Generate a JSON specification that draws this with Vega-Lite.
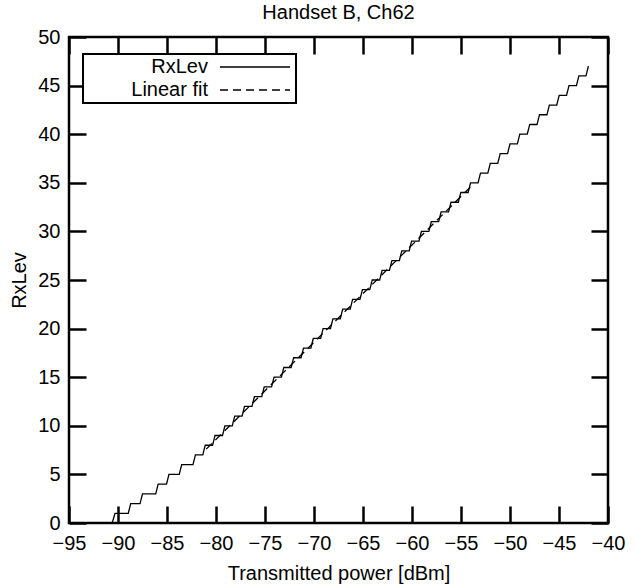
{
  "$schema": "https://vega.github.io/schema/vega-lite/v6.json",
  "autosize": {"type": "none"},
  "padding": {"left": 69, "top": 37, "right": 28, "bottom": 65},
  "width": 539,
  "height": 486,
  "title": {"text": "Handset B, Ch62", "fontSize": 20, "font": "Liberation Sans", "fontWeight": "normal", "color": "black", "offset": 4},
  "data": {"values": [
    {"series": "RxLev", "x": -90.6, "y": 0},
    {"series": "RxLev", "x": -90.3, "y": 1},
    {"series": "RxLev", "x": -88.95, "y": 1},
    {"series": "RxLev", "x": -88.7, "y": 2},
    {"series": "RxLev", "x": -87.75, "y": 2},
    {"series": "RxLev", "x": -87.5, "y": 3},
    {"series": "RxLev", "x": -86.15, "y": 3},
    {"series": "RxLev", "x": -85.9, "y": 4},
    {"series": "RxLev", "x": -85.05, "y": 4},
    {"series": "RxLev", "x": -84.8, "y": 5},
    {"series": "RxLev", "x": -83.75, "y": 5},
    {"series": "RxLev", "x": -83.5, "y": 6},
    {"series": "RxLev", "x": -82.35, "y": 6},
    {"series": "RxLev", "x": -82.1, "y": 7},
    {"series": "RxLev", "x": -81.35, "y": 7},
    {"series": "RxLev", "x": -81.1, "y": 8},
    {"series": "RxLev", "x": -80.35, "y": 8},
    {"series": "RxLev", "x": -80.1, "y": 9},
    {"series": "RxLev", "x": -79.34, "y": 9},
    {"series": "RxLev", "x": -79.09, "y": 10},
    {"series": "RxLev", "x": -78.34, "y": 10},
    {"series": "RxLev", "x": -78.09, "y": 11},
    {"series": "RxLev", "x": -77.34, "y": 11},
    {"series": "RxLev", "x": -77.09, "y": 12},
    {"series": "RxLev", "x": -76.33, "y": 12},
    {"series": "RxLev", "x": -76.08, "y": 13},
    {"series": "RxLev", "x": -75.33, "y": 13},
    {"series": "RxLev", "x": -75.08, "y": 14},
    {"series": "RxLev", "x": -74.33, "y": 14},
    {"series": "RxLev", "x": -74.08, "y": 15},
    {"series": "RxLev", "x": -73.33, "y": 15},
    {"series": "RxLev", "x": -73.08, "y": 16},
    {"series": "RxLev", "x": -72.33, "y": 16},
    {"series": "RxLev", "x": -72.08, "y": 17},
    {"series": "RxLev", "x": -71.32, "y": 17},
    {"series": "RxLev", "x": -71.07, "y": 18},
    {"series": "RxLev", "x": -70.32, "y": 18},
    {"series": "RxLev", "x": -70.07, "y": 19},
    {"series": "RxLev", "x": -69.32, "y": 19},
    {"series": "RxLev", "x": -69.07, "y": 20},
    {"series": "RxLev", "x": -68.32, "y": 20},
    {"series": "RxLev", "x": -68.07, "y": 21},
    {"series": "RxLev", "x": -67.32, "y": 21},
    {"series": "RxLev", "x": -67.07, "y": 22},
    {"series": "RxLev", "x": -66.31, "y": 22},
    {"series": "RxLev", "x": -66.06, "y": 23},
    {"series": "RxLev", "x": -65.31, "y": 23},
    {"series": "RxLev", "x": -65.06, "y": 24},
    {"series": "RxLev", "x": -64.31, "y": 24},
    {"series": "RxLev", "x": -64.06, "y": 25},
    {"series": "RxLev", "x": -63.3, "y": 25},
    {"series": "RxLev", "x": -63.05, "y": 26},
    {"series": "RxLev", "x": -62.3, "y": 26},
    {"series": "RxLev", "x": -62.05, "y": 27},
    {"series": "RxLev", "x": -61.29, "y": 27},
    {"series": "RxLev", "x": -61.04, "y": 28},
    {"series": "RxLev", "x": -60.29, "y": 28},
    {"series": "RxLev", "x": -60.04, "y": 29},
    {"series": "RxLev", "x": -59.29, "y": 29},
    {"series": "RxLev", "x": -59.04, "y": 30},
    {"series": "RxLev", "x": -58.28, "y": 30},
    {"series": "RxLev", "x": -58.03, "y": 31},
    {"series": "RxLev", "x": -57.28, "y": 31},
    {"series": "RxLev", "x": -57.03, "y": 32},
    {"series": "RxLev", "x": -56.27, "y": 32},
    {"series": "RxLev", "x": -56.02, "y": 33},
    {"series": "RxLev", "x": -55.27, "y": 33},
    {"series": "RxLev", "x": -55.02, "y": 34},
    {"series": "RxLev", "x": -54.27, "y": 34},
    {"series": "RxLev", "x": -54.02, "y": 35},
    {"series": "RxLev", "x": -53.26, "y": 35},
    {"series": "RxLev", "x": -53.01, "y": 36},
    {"series": "RxLev", "x": -52.26, "y": 36},
    {"series": "RxLev", "x": -52.01, "y": 37},
    {"series": "RxLev", "x": -51.25, "y": 37},
    {"series": "RxLev", "x": -51.0, "y": 38},
    {"series": "RxLev", "x": -50.25, "y": 38},
    {"series": "RxLev", "x": -50.0, "y": 39},
    {"series": "RxLev", "x": -49.25, "y": 39},
    {"series": "RxLev", "x": -49.0, "y": 40},
    {"series": "RxLev", "x": -48.24, "y": 40},
    {"series": "RxLev", "x": -47.99, "y": 41},
    {"series": "RxLev", "x": -47.24, "y": 41},
    {"series": "RxLev", "x": -46.99, "y": 42},
    {"series": "RxLev", "x": -46.23, "y": 42},
    {"series": "RxLev", "x": -45.98, "y": 43},
    {"series": "RxLev", "x": -45.23, "y": 43},
    {"series": "RxLev", "x": -44.98, "y": 44},
    {"series": "RxLev", "x": -44.23, "y": 44},
    {"series": "RxLev", "x": -43.98, "y": 45},
    {"series": "RxLev", "x": -43.22, "y": 45},
    {"series": "RxLev", "x": -42.97, "y": 46},
    {"series": "RxLev", "x": -42.25, "y": 46},
    {"series": "RxLev", "x": -42.0, "y": 47},
    {"series": "Linear fit", "x": -81.0, "y": 7.6},
    {"series": "Linear fit", "x": -54.0, "y": 34.6}
  ]},
  "layer": [
    {
      "mark": {"type": "line", "strokeWidth": 1.3, "interpolate": "linear"},
      "encoding": {
        "x": {"field": "x", "type": "quantitative", "scale": {"domain": [-95, -40], "nice": false, "zero": false},
          "axis": {"orient": "bottom", "values": [-95, -90, -85, -80, -75, -70, -65, -60, -55, -50, -45, -40], "title": "Transmitted power [dBm]", "labelPadding": 27, "titlePadding": 10}},
        "y": {"field": "y", "type": "quantitative", "scale": {"domain": [0, 50], "nice": false, "zero": false},
          "axis": {"orient": "left", "values": [0, 5, 10, 15, 20, 25, 30, 35, 40, 45, 50], "title": "RxLev", "labelPadding": 26, "titlePadding": 8}},
        "color": {"field": "series", "type": "nominal", "scale": {"domain": ["RxLev", "Linear fit"], "range": ["black", "black"]},
          "legend": {"orient": "none", "legendX": 14, "legendY": 17, "title": null}},
        "strokeDash": {"field": "series", "type": "nominal", "scale": {"domain": ["RxLev", "Linear fit"], "range": [[1, 0], [8, 5]]},
          "legend": {"orient": "none", "legendX": 14, "legendY": 17, "title": null}}
      }
    },
    {
      "mark": {"type": "line", "strokeOpacity": 0},
      "encoding": {
        "x": {"field": "x", "type": "quantitative", "scale": {"domain": [-95, -40], "nice": false, "zero": false},
          "axis": {"orient": "top", "values": [-95, -90, -85, -80, -75, -70, -65, -60, -55, -50, -45, -40], "labels": false, "title": null}},
        "y": {"field": "y", "type": "quantitative", "scale": {"domain": [0, 50], "nice": false, "zero": false},
          "axis": {"orient": "right", "values": [0, 5, 10, 15, 20, 25, 30, 35, 40, 45, 50], "labels": false, "title": null}},
        "detail": {"field": "series", "type": "nominal"}
      }
    }
  ],
  "resolve": {"axis": {"x": "independent", "y": "independent"}},
  "config": {
    "view": {"stroke": "black", "strokeWidth": 2.5},
    "font": "Liberation Sans",
    "axis": {
      "domain": false, "grid": false, "ticks": true, "tickSize": -17, "tickWidth": 2.5, "tickColor": "black",
      "labelFont": "Liberation Sans", "labelFontSize": 20, "labelColor": "black", "labelFlush": false, "labelOverlap": false,
      "titleFont": "Liberation Sans", "titleFontSize": 20, "titleFontWeight": "normal", "titleColor": "black"
    },
    "legend": {
      "symbolType": "M-7,0H7",
      "symbolSize": 100,
      "symbolStrokeWidth": 1.3,
      "symbolStrokeColor": "black",
      "symbolOffset": 159,
      "labelAlign": "right",
      "labelOffset": -57,
      "labelFont": "Liberation Sans",
      "labelFontSize": 20,
      "labelColor": "black",
      "strokeColor": "black",
      "strokeWidth": 2,
      "fillColor": "white",
      "padding": 3,
      "rowPadding": 3
    }
  }
}
